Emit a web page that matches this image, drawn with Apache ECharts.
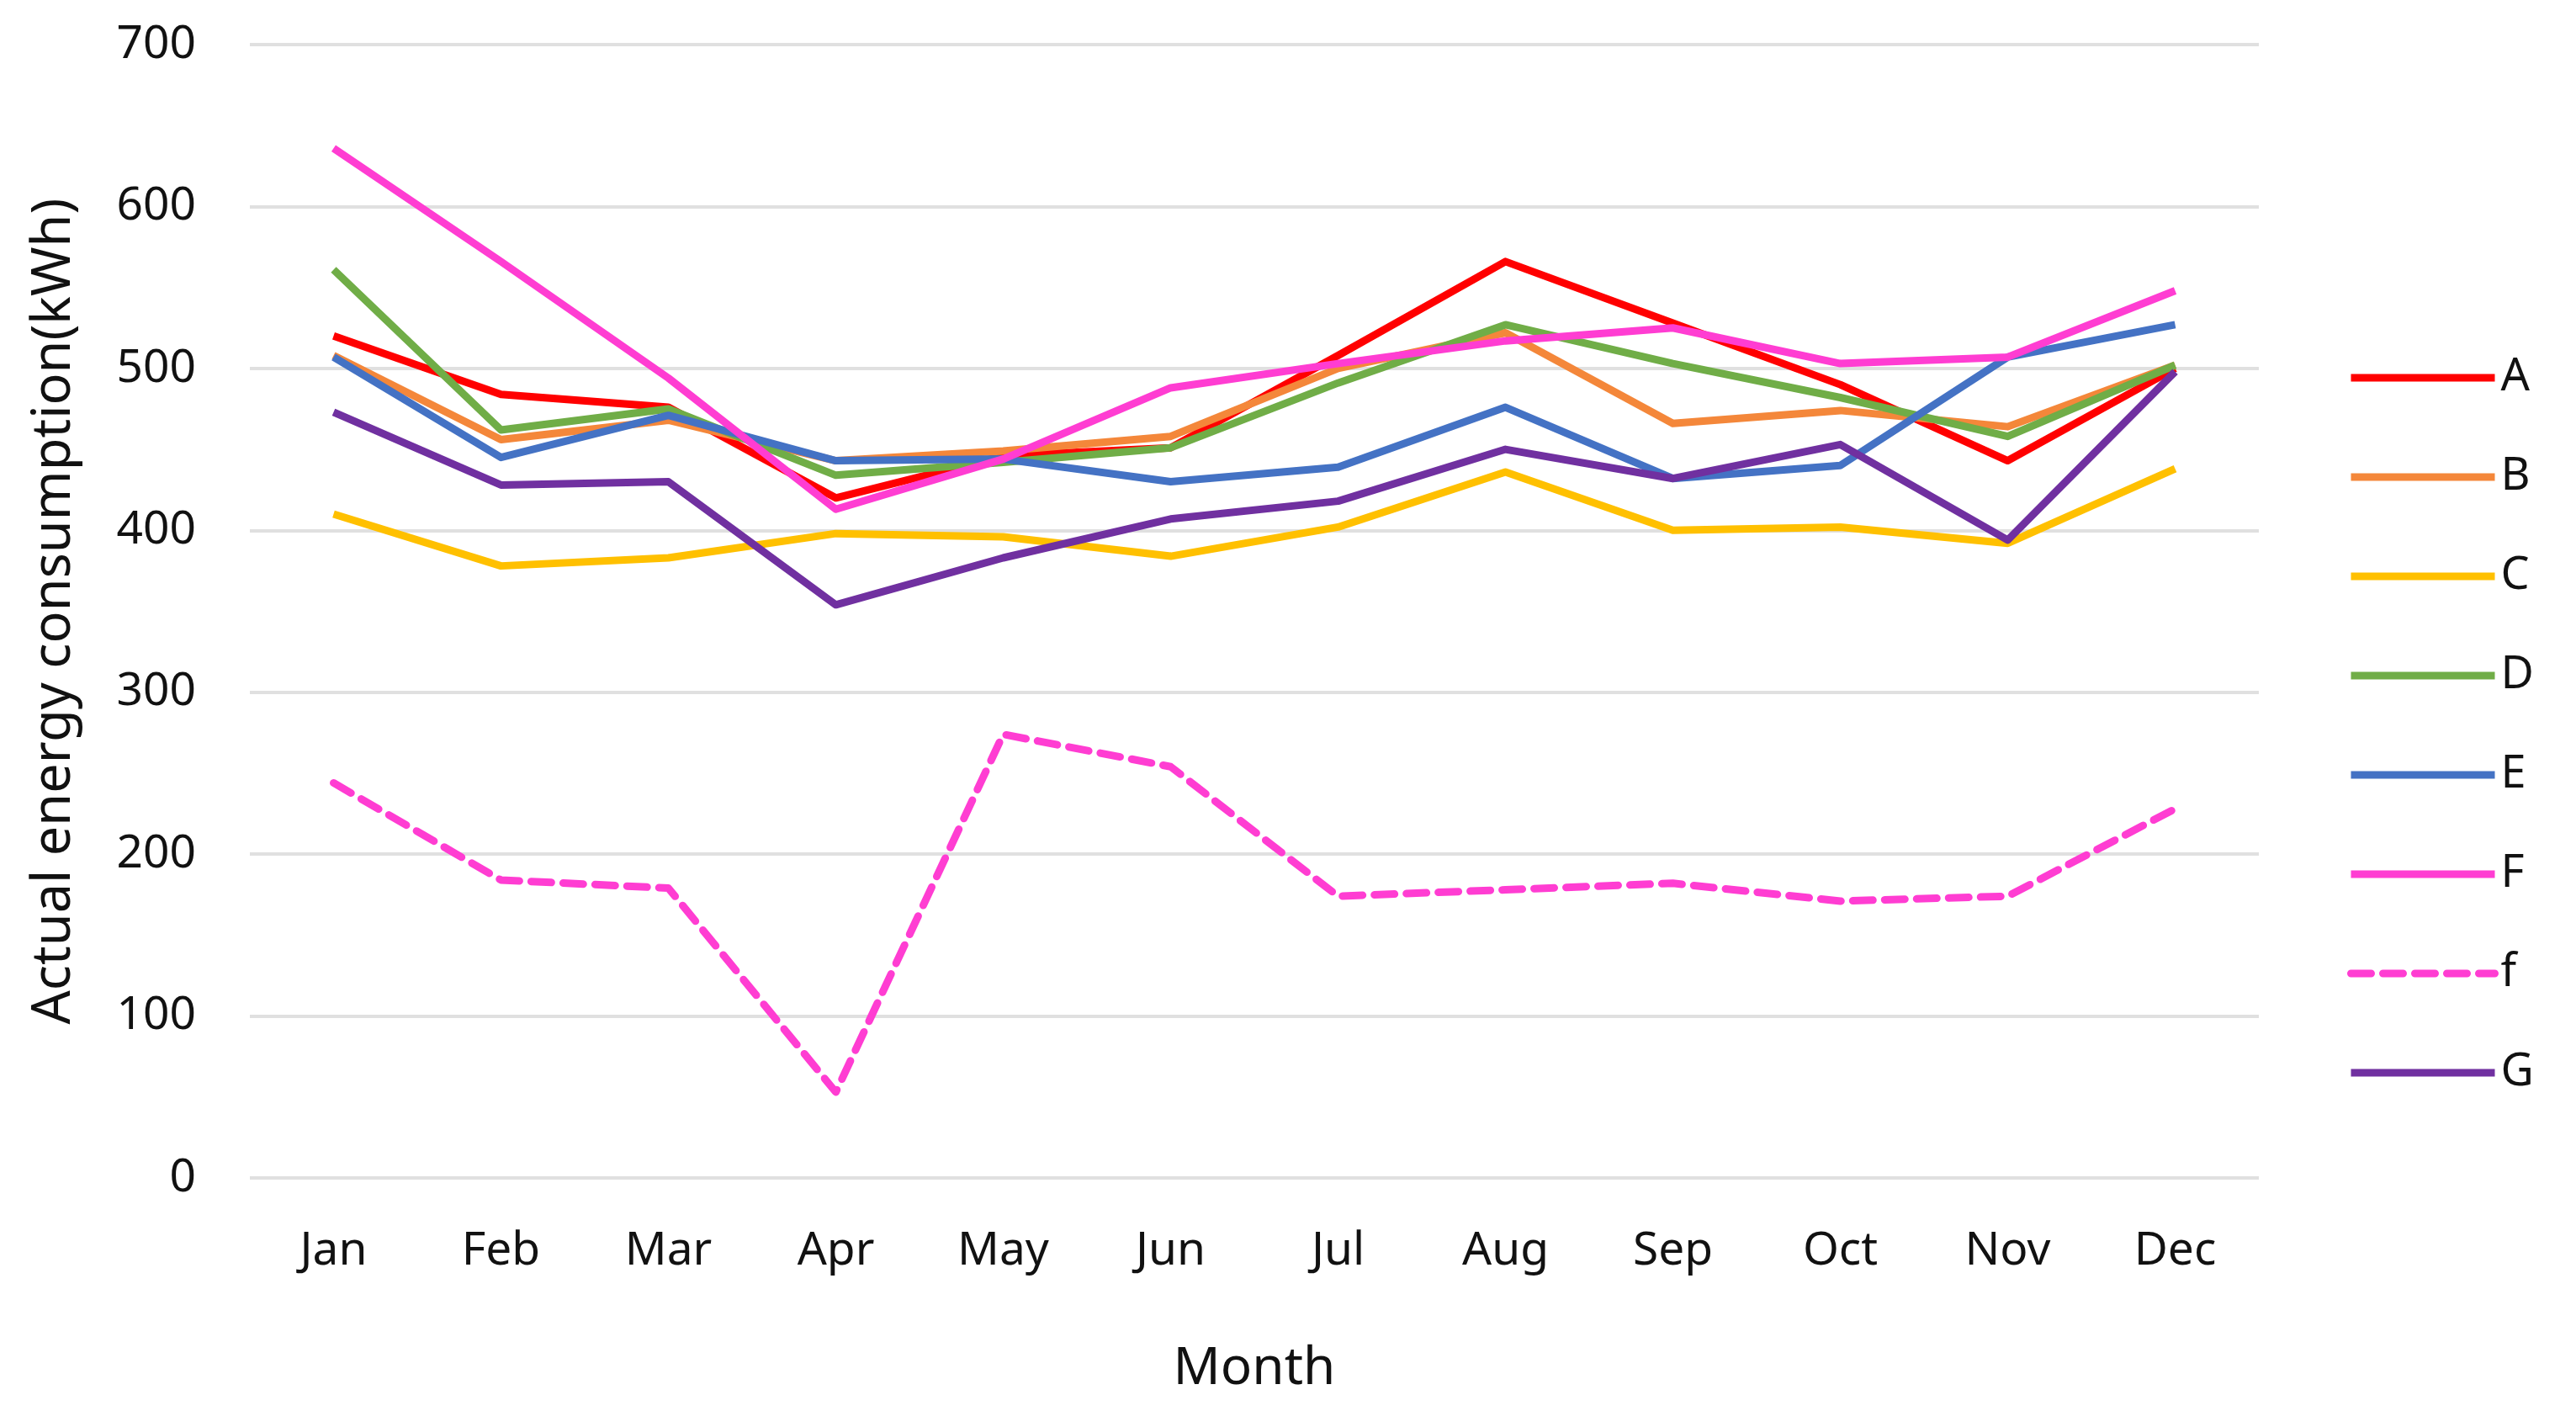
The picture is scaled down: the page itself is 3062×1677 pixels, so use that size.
<!DOCTYPE html>
<html>
<head>
<meta charset="utf-8">
<script src="https://cdn.jsdelivr.net/npm/echarts@6/dist/echarts.min.js"></script>
<style>html,body{margin:0;padding:0;background:#fff}#c{width:3062px;height:1677px}</style>
</head>
<body>
<div id="c"></div>
<script>
const months = ['Jan','Feb','Mar','Apr','May','Jun','Jul','Aug','Sep','Oct','Nov','Dec'];
const seriesNames = ['A','B','C','D','E','F','f','G'];
const A = [520, 484, 476, 420, 446, 451, 508, 566, 528, 490, 443, 500];
const B = [508, 456, 468, 443, 449, 458, 500, 522, 466, 474, 464, 502];
const C = [410, 378, 383, 398, 396, 384, 402, 436, 400, 402, 392, 438];
const D = [561, 462, 475, 434, 442, 451, 491, 527, 503, 482, 458, 502];
const E = [507, 445, 471, 443, 444, 430, 439, 476, 432, 440, 507, 527];
const F = [636, 566, 494, 413, 444, 488, 503, 517, 525, 503, 507, 548];
const f = [244, 184, 179, 53, 274, 254, 174, 178, 182, 171, 174, 228];
const G = [473, 428, 430, 354, 383, 407, 418, 450, 432, 453, 394, 498];
const yTicks = [0, 100, 200, 300, 400, 500, 600, 700];

const values = [A, B, C, D, E, F, f, G];
const colors = ['#FF0000', '#F4873A', '#FFC000', '#70AD47', '#4472C4', '#FF3DD2', '#FF3DD2', '#7030A0'];
const font = '"Noto Sans", "DejaVu Sans", sans-serif';

const chart = echarts.init(document.getElementById('c'));
chart.setOption({
  animation: false,
  backgroundColor: '#ffffff',
  textStyle: { fontFamily: font },
  grid: { left: 297, right: 377, top: 53, bottom: 277, containLabel: false, outerBoundsMode: 'none' },
  legend: {
    orient: 'vertical',
    left: 2785,
    top: 414,
    itemWidth: 171,
    itemHeight: 14,
    itemGap: 58,
    icon: 'inherit',
    itemStyle: { opacity: 0 },
    lineStyle: { width: 9 },
    textStyle: { fontFamily: font, fontSize: 54, color: '#111', lineHeight: 60, padding: [0, 0, 0, 2] },
    data: seriesNames
  },
  xAxis: {
    type: 'category',
    data: months,
    boundaryGap: true,
    axisLine: { show: false },
    axisTick: { show: false },
    axisLabel: { fontFamily: font, fontSize: 55, color: '#111', margin: 60 },
    name: 'Month',
    nameLocation: 'middle',
    nameGap: 196,
    nameMoveOverlap: false,
    nameTextStyle: { fontFamily: font, fontSize: 62, color: '#111' }
  },
  yAxis: {
    type: 'value',
    min: yTicks[0],
    max: yTicks[yTicks.length - 1],
    interval: 100,
    axisLine: { show: false },
    axisTick: { show: false },
    axisLabel: { fontFamily: font, fontSize: 55, color: '#111', margin: 64 },
    splitLine: { lineStyle: { color: '#e0e0e0', width: 4 } },
    name: 'Actual energy consumption(kWh)',
    nameLocation: 'middle',
    nameGap: 200,
    nameMoveOverlap: false,
    nameTextStyle: { fontFamily: font, fontSize: 63, color: '#111' }
  },
  series: seriesNames.map((n, i) => ({
    name: n,
    type: 'line',
    data: values[i],
    symbol: 'none',
    showSymbol: false,
    color: colors[i],
    lineStyle: {
      color: colors[i],
      width: 9,
      type: n === 'f' ? [24, 14] : 'solid',
      cap: n === 'f' ? 'round' : 'butt',
      join: 'round'
    },
    z: 2 + i
  }))
});
</script>
</body>
</html>
